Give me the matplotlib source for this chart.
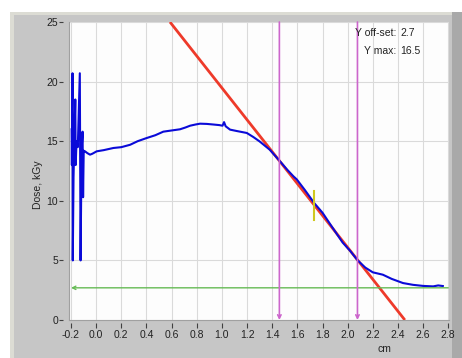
import matplotlib
matplotlib.use("Agg")
import matplotlib.pyplot as plt
from matplotlib.patches import Rectangle

# ---------------- data ----------------
dose_x = [-0.195, -0.193, -0.188, -0.186, -0.180, -0.166, -0.163, -0.156, -0.146,
          -0.130, -0.124, -0.116, -0.108, -0.104, -0.099, -0.089, -0.070, -0.049,
          -0.030, 0.004, 0.06, 0.137, 0.20, 0.27, 0.33, 0.40, 0.47, 0.534, 0.60,
          0.667, 0.71, 0.747, 0.79, 0.826, 0.88, 0.932, 0.98, 1.005, 1.017, 1.03,
          1.065, 1.12, 1.198, 1.25, 1.30, 1.38, 1.455, 1.52, 1.57, 1.595, 1.66,
          1.735, 1.80, 1.87, 1.96, 2.02, 2.08, 2.14, 2.20, 2.28, 2.35, 2.44, 2.52,
          2.60, 2.68, 2.72, 2.757]
dose_y = [16.0, 13.0, 20.7, 5.0, 12.0, 18.5, 13.0, 15.0, 14.5,
          20.7, 5.0, 14.2, 15.8, 10.3, 14.2, 14.15, 14.0, 13.87,
          13.95, 14.15, 14.25, 14.43, 14.5, 14.7, 15.0, 15.26, 15.5, 15.8, 15.9,
          16.0, 16.15, 16.3, 16.4, 16.47, 16.45, 16.4, 16.35, 16.3, 16.6, 16.25,
          15.97, 15.85, 15.69, 15.35, 14.98, 14.29, 13.4, 12.6, 12.04, 11.8, 10.9,
          9.8, 9.0, 7.9, 6.5, 5.8, 5.0, 4.4, 4.0, 3.8, 3.45, 3.1, 2.95,
          2.86, 2.82, 2.9, 2.85]

tangent_x = [0.587, 2.455]     # red line from top (25) to bottom (0)
tangent_y = [25.0, 0.0]
marker_x = [1.457, 2.078]      # magenta vertical markers
mid_x = 1.735                  # yellow tick
mid_y = [8.4, 10.8]
y_offset = 2.7
y_max = 16.5

x_ticks = [-0.2, 0.0, 0.2, 0.4, 0.6, 0.8, 1.0, 1.2, 1.4, 1.6, 1.8, 2.0, 2.2, 2.4, 2.6, 2.8]
x_tick_labels = ["-0.2", "0.0", "0.2", "0.4", "0.6", "0.8", "1.0", "1.2", "1.4", "1.6",
                 "1.8", "2.0", "2.2", "2.4", "2.6", "2.8"]
y_ticks = [0, 5, 10, 15, 20, 25]
y_tick_labels = ["0", "5", "10", "15", "20", "25"]

# ---------------- figure ----------------
W, H = 462, 358
fig = plt.figure(figsize=(W / 100, H / 100), dpi=100)
fig.patch.set_facecolor("white")
plt.rcParams['font.family'] = ['Liberation Sans', 'DejaVu Sans']
FS = 7.5
TC = "#222222"


def fx(px):
    return px / W


def fy(py):
    return 1 - py / H


# gray frame
def frame_rect(x0, y0, x1, y1, color):
    fig.patches.append(Rectangle((fx(x0), fy(y1)), fx(x1) - fx(x0), fy(y0) - fy(y1),
                                 transform=fig.transFigure, facecolor=color,
                                 edgecolor="none", zorder=-5))


frame_rect(10, 12, 452, 358, "#c6c6c6")
frame_rect(10, 12, 14, 358, "#dcdcd4")
frame_rect(10, 12, 452, 15, "#dcdcd4")
frame_rect(452, 12, 462, 358, "#a9a9a9")

ax = fig.add_axes([fx(69), fy(320), fx(449) - fx(69), fy(22) - fy(320)])
ax.set_zorder(1)
ax.set_facecolor("#fdfdfd")
ax.set_xlim(-0.216, 2.806)
ax.set_ylim(0, 25)

ax.set_xticks(x_ticks)
ax.set_xticklabels(x_tick_labels)
ax.set_yticks(y_ticks)
ax.set_yticklabels(y_tick_labels)
ax.grid(True, color="#dadada", linewidth=0.8)
ax.set_axisbelow(True)

for s in ["top", "right"]:
    ax.spines[s].set_visible(False)
ax.spines['bottom'].set_position(('outward', 2.5))
ax.spines['left'].set_position(('outward', 4))
ax.spines['bottom'].set_visible(False)
ax.spines['left'].set_visible(False)
ax.tick_params(axis='x', direction='out', length=3.5, width=0.8, color="#404040",
               pad=1, labelsize=FS, labelcolor=TC)
ax.tick_params(axis='y', direction='out', length=3, width=0.8, color="#404040",
               pad=1, labelsize=FS, labelcolor=TC)

# plot boundary lines (left/bottom edge of white area)
ax.plot([0, 0], [0, 1], transform=ax.transAxes, color="#a0a0a0", lw=0.8, clip_on=False)
ax.plot([0, 1], [0, 0], transform=ax.transAxes, color="#a0a0a0", lw=0.8, clip_on=False)

# green offset line with arrow at left
ax.annotate("", xy=(x_ticks[0], y_offset), xytext=(x_ticks[-1], y_offset),
            arrowprops=dict(arrowstyle="->", color="#66bb55", lw=1.0,
                            shrinkA=0, shrinkB=0, mutation_scale=6))

# magenta markers with down arrows
for mx in marker_x:
    ax.annotate("", xy=(mx, 0), xytext=(mx, 25),
                arrowprops=dict(arrowstyle="->", color="#cc66cc", lw=1.2,
                                shrinkA=0, shrinkB=0, mutation_scale=6))

# red tangent
ax.plot(tangent_x, tangent_y, color="#ee3a2a", lw=2.0, solid_capstyle="butt")

# blue dose profile
ax.plot(dose_x, dose_y, color="#0a0ad8", lw=1.5, solid_joinstyle="round")

# yellow tick
ax.plot([mid_x, mid_x], mid_y, color="#d0c820", lw=1.5)

# annotations
fig.text(fx(396), fy(33), "Y off-set:", ha="right", va="center", fontsize=FS, color=TC, zorder=5)
fig.text(fx(400), fy(33), f"{y_offset}", ha="left", va="center", fontsize=FS, color=TC, zorder=5)
fig.text(fx(396), fy(51), "Y max:", ha="right", va="center", fontsize=FS, color=TC, zorder=5)
fig.text(fx(400), fy(51), f"{y_max}", ha="left", va="center", fontsize=FS, color=TC, zorder=5)

fig.text(fx(38), fy(185), "Dose, kGy", rotation=90, ha="center", va="center",
         fontsize=FS, color=TC)
fig.text(fx(384), fy(349), "cm", ha="center", va="center", fontsize=FS, color=TC)

fig.savefig("out.png", dpi=100, facecolor=fig.get_facecolor())
